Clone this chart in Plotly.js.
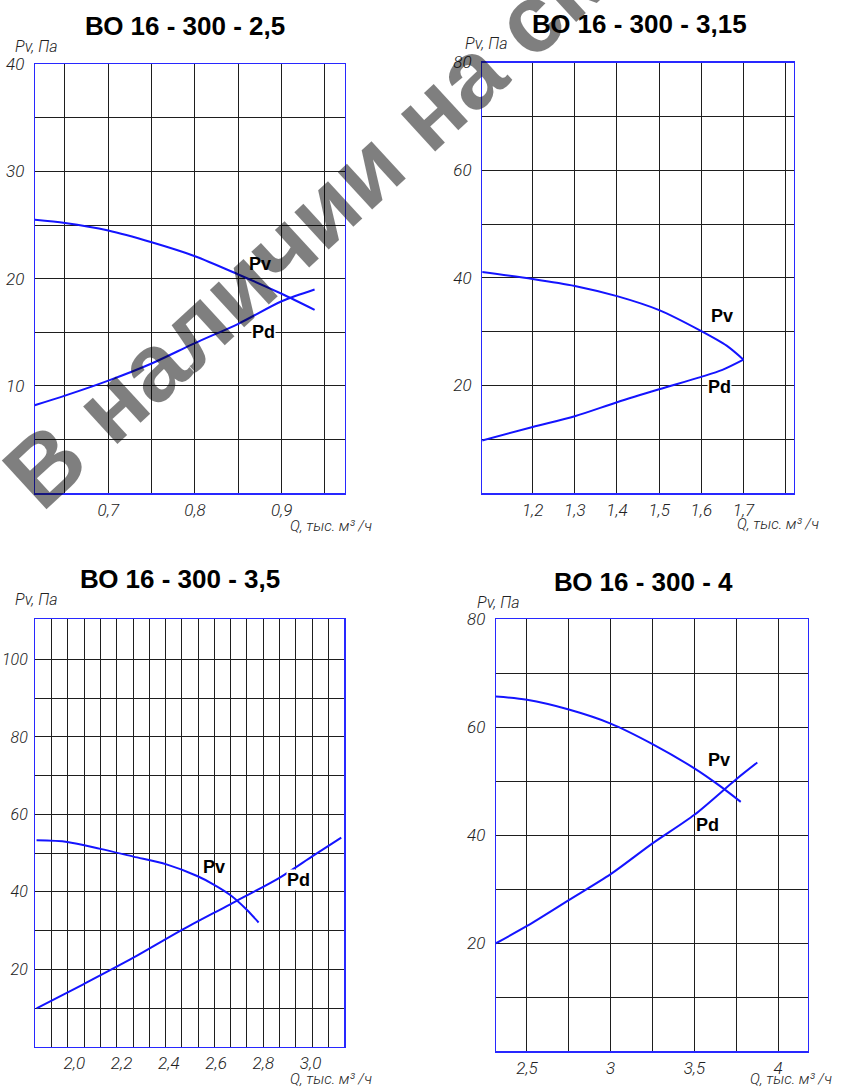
<!DOCTYPE html>
<html>
<head>
<meta charset="utf-8">
<script src="https://cdn.plot.ly/plotly-3.0.1.min.js"></script>
<style>
html,body{margin:0;padding:0;background:#fff;}
#chart{width:845px;height:1088px;}
</style>
</head>
<body>
<div id="chart"></div>
<script>
// ---------- titles & texts ----------
const chartTitles = ["ВО 16 - 300 - 2,5", "ВО 16 - 300 - 3,15", "ВО 16 - 300 - 3,5", "ВО 16 - 300 - 4"];
const yAxisLabel = "Pv, Па";
const xAxisLabel = "Q, тыс. м³ /ч";
const watermarkText = "В наличии на складе";

// ---------- ВО 16-300-2,5 ----------
const q25_pv = [0.615, 0.65, 0.70, 0.75, 0.80, 0.85, 0.90, 0.938];
const pv25   = [25.5, 25.2, 24.5, 23.4, 22.1, 20.4, 18.6, 17.1];
const q25_pd = [0.615, 0.65, 0.70, 0.75, 0.80, 0.85, 0.90, 0.938];
const pd25   = [8.2, 9.1, 10.5, 12.1, 14.0, 15.8, 17.9, 19.0];

// ---------- ВО 16-300-3,15 ----------
const q315_pv = [1.08, 1.2, 1.3, 1.4, 1.5, 1.6, 1.66, 1.70];
const pv315   = [41.1, 39.8, 38.5, 36.6, 34.0, 30.1, 27.4, 24.8];
const q315_pd = [1.08, 1.2, 1.3, 1.4, 1.5, 1.6, 1.65, 1.70];
const pd315   = [9.8, 12.3, 14.3, 16.9, 19.3, 21.6, 22.9, 24.8];

// ---------- ВО 16-300-3,5 ----------
const q35_pv = [1.84, 1.97, 2.11, 2.25, 2.39, 2.52, 2.59, 2.66, 2.73, 2.78];
const pv35   = [53.3, 52.9, 51.1, 49.1, 47.1, 44.1, 41.9, 39.2, 35.4, 32.1];
const q35_pd = [1.84, 2.04, 2.25, 2.45, 2.66, 2.87, 3.01, 3.13];
const pd35   = [9.9, 16.2, 23.0, 30.0, 36.8, 43.7, 49.3, 54.0];

// ---------- ВО 16-300-4 ----------
const q4_pv = [2.315, 2.5, 2.75, 3.0, 3.25, 3.5, 3.65, 3.777];
const pv4   = [65.7, 65.1, 63.3, 60.7, 56.9, 52.4, 49.2, 46.2];
const q4_pd = [2.315, 2.5, 2.75, 3.0, 3.25, 3.5, 3.75, 3.876];
const pd4   = [20.0, 23.2, 28.0, 32.8, 38.5, 43.8, 50.4, 53.5];

// ---------- tick values / labels ----------
const x1Ticks = [0.65, 0.70, 0.75, 0.80, 0.85, 0.90, 0.95];
const x1Text  = [" ", "0,7", " ", "0,8", " ", "0,9", " "];
const y1Ticks = [5, 10, 15, 20, 25, 30, 35, 40];
const y1Text  = [" ", "10", " ", "20", " ", "30", " ", "40"];

const x2Ticks = [1.2, 1.3, 1.4, 1.5, 1.6, 1.7, 1.8];
const x2Text  = ["1,2", "1,3", "1,4", "1,5", "1,6", "1,7", " "];
const y2Ticks = [10, 20, 30, 40, 50, 60, 70, 80];
const y2Text  = [" ", "20", " ", "40", " ", "60", " ", "80"];

const x3LabelTicks = [2.0, 2.2, 2.4, 2.6, 2.8, 3.0];
const x3LabelText  = ["2,0", "2,2", "2,4", "2,6", "2,8", "3,0"];
const y3Ticks = [10, 20, 30, 40, 50, 60, 70, 80, 90, 100];
const y3Text  = [" ", "20", " ", "40", " ", "60", " ", "80", " ", "100"];

const x4Ticks = [2.5, 2.75, 3.0, 3.25, 3.5, 3.75, 4.0];
const x4Text  = ["2,5", " ", "3", " ", "3,5", " ", "4"];
const y4Ticks = [10, 20, 30, 40, 50, 60, 70, 80];
const y4Text  = [" ", "20", " ", "40", " ", "60", " ", "80"];

// ---------- styles ----------
const BLUE = "rgb(20,20,255)";
const BORDER = "rgb(40,40,255)";
const GRID = "#1e1e1e";
const tickFont = {family: "Roboto, 'DejaVu Sans', sans-serif", size: 17, style: "italic", weight: 300, color: "#222"};
const tickFontSmall = {family: "Roboto, 'DejaVu Sans', sans-serif", size: 16, style: "italic", weight: 300, color: "#222"};
const labelFont = {family: "Roboto, 'DejaVu Sans', sans-serif", size: 15, style: "italic", weight: 300, color: "#222"};
const titleFont = {family: "'Liberation Sans', Arial, sans-serif", size: 26, weight: 700, color: "#000"};
const curveLabelFont = {family: "'Liberation Sans', Arial, sans-serif", size: 18, weight: 700, color: "#000"};

function line(x, y, xa, ya) {
  return {x: x, y: y, xaxis: xa, yaxis: ya, type: "scatter", mode: "lines",
          line: {color: BLUE, width: 2, shape: "spline", smoothing: 0.8},
          hoverinfo: "skip", showlegend: false};
}

const data = [
  line(q25_pv, pv25, "x", "y"),
  line(q25_pd, pd25, "x", "y"),
  line(q315_pv, pv315, "x2", "y2"),
  line(q315_pd, pd315, "x2", "y2"),
  line(q35_pv, pv35, "x5", "y3"),
  line(q35_pd, pd35, "x3", "y3"),
  line(q4_pv, pv4, "x4", "y4"),
  line(q4_pd, pd4, "x4", "y4")
];

function xAxis(domain, range, anchor, vals, text) {
  return {domain: domain, range: range, anchor: anchor, fixedrange: true,
          tickmode: "array", tickvals: vals, ticktext: text, ticks: "",
          showgrid: true, gridcolor: GRID, gridwidth: 1, zeroline: false,
          showline: true, mirror: true, linecolor: BORDER, linewidth: 1.3,
          tickfont: tickFont, ticklabelstandoff: 1};
}
function yAxis(domain, range, anchor, vals, text) {
  return {domain: domain, range: range, anchor: anchor, fixedrange: true,
          tickmode: "array", tickvals: vals, ticktext: text, ticks: "",
          showgrid: true, gridcolor: GRID, gridwidth: 1, zeroline: false,
          showline: true, mirror: true, linecolor: BORDER, linewidth: 1.3,
          tickfont: tickFont, ticklabelstandoff: 6};
}

const W = 845, H = 1088;
const px = v => v / W;
const py = v => 1 - v / H;

const layout = {
  width: W, height: H,
  margin: {l: 0, r: 0, t: 0, b: 0},
  paper_bgcolor: "#fff", plot_bgcolor: "#fff",
  showlegend: false,
  xaxis:  xAxis([px(35), px(345)], [0.6154, 0.9731], "y", x1Ticks, x1Text),
  yaxis:  yAxis([py(493.2), py(64.3)], [0, 40], "x", y1Ticks, y1Text),
  xaxis2: xAxis([px(482.3), px(794)], [1.0806, 1.8198], "y2", x2Ticks, x2Text),
  yaxis2: yAxis([py(493.2), py(62.5)], [0, 80], "x2", y2Ticks, y2Text),
  xaxis3: Object.assign(xAxis([px(35.3), px(344.3)], [1.8347, 3.1429], "y3", [], []),
          {tickmode: "linear", tick0: 1.904, dtick: 0.0689, showticklabels: false}),
  xaxis5: {overlaying: "x3", anchor: "y3", side: "bottom", range: [1.8347, 3.1429], fixedrange: true,
           tickmode: "array", tickvals: x3LabelTicks, ticktext: x3LabelText, ticks: "",
           showgrid: false, zeroline: false, showline: false, tickfont: tickFont, ticklabelstandoff: 4},
  yaxis3: Object.assign(yAxis([py(1046.8), py(618.8)], [0, 110.5], "x3", y3Ticks, y3Text),
          {tickfont: tickFontSmall, ticklabelstandoff: 3}),
  xaxis4: xAxis([px(496), px(807.7)], [2.315, 4.177], "y4", x4Ticks, x4Text),
  yaxis4: yAxis([py(1051.2), py(619.4)], [0, 80], "x4", y4Ticks, y4Text),
  annotations: []
};

const ann = layout.annotations;
// watermark
ann.push({text: watermarkText, xref: "paper", yref: "paper", x: px(386), y: py(152),
          xanchor: "center", yanchor: "middle", showarrow: false, textangle: -42.6,
          font: {family: "'Liberation Sans', Arial, sans-serif", size: 96, weight: 700, color: "rgba(0,0,0,0.5)"}});

// titles
const titlePos = [[185, 25.8], [639.3, 24.1], [180, 578.6], [643.3, 581.7]];
chartTitles.forEach((t, i) => ann.push({text: t, xref: "paper", yref: "paper",
  x: px(titlePos[i][0]), y: py(titlePos[i][1]), xanchor: "center", yanchor: "middle",
  showarrow: false, font: titleFont}));

// axis labels
const yLabPos = [[13, 46.7], [463, 43.3], [13.3, 599.7], [475, 602.3]];
yLabPos.forEach(p => ann.push({text: yAxisLabel, xref: "paper", yref: "paper",
  x: px(p[0]), y: py(p[1]), xanchor: "left", yanchor: "middle", showarrow: false,
  font: Object.assign({}, labelFont, {size: 16})}));
const xLabPos = [[288, 526], [735, 524], [288, 1079], [748, 1079]];
xLabPos.forEach(p => ann.push({text: xAxisLabel, xref: "paper", yref: "paper",
  x: px(p[0]), y: py(p[1]), xanchor: "left", yanchor: "middle", showarrow: false, font: labelFont}));

// curve labels
function curveLabel(t, x, y, xr, yr, bg) {
  ann.push({text: t, x: x, y: y, xref: xr, yref: yr, xanchor: "center", yanchor: "middle",
            showarrow: false, font: curveLabelFont, bgcolor: bg ? "#fff" : "rgba(0,0,0,0)", borderpad: 0});
}
curveLabel("Pv", 0.875, 21.4, "x", "y", false);
curveLabel("Pd", 0.879, 15.0, "x", "y", true);
curveLabel("Pv", 1.648, 33.0, "x2", "y2", false);
curveLabel("Pd", 1.642, 19.8, "x2", "y2", true);
curveLabel("Pv", 2.593, 46.4, "x3", "y3", false);
curveLabel("Pd", 2.948, 43.0, "x3", "y3", true);
curveLabel("Pv", 3.647, 54.0, "x4", "y4", false);
curveLabel("Pd", 3.578, 41.9, "x4", "y4", false);

Plotly.newPlot("chart", data, layout, {staticPlot: true, displayModeBar: false});
</script>
</body>
</html>
